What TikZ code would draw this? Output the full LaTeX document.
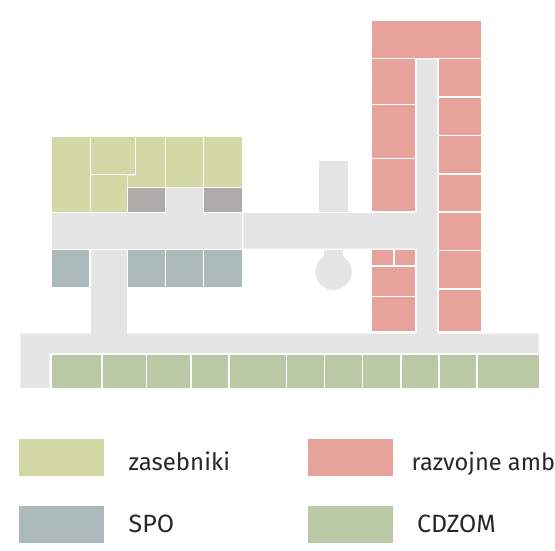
\documentclass[tikz,border=0pt]{standalone}
\usepackage{fontspec}
\setmainfont{Fira Sans}
\definecolor{zas}{HTML}{D3D9A6}
\definecolor{raz}{HTML}{E7A29B}
\definecolor{spo}{HTML}{ACBABA}
\definecolor{cdz}{HTML}{BAC8A5}
\definecolor{hod}{HTML}{E5E5E5}
\definecolor{sto}{HTML}{B0ABAB}
\definecolor{txt}{HTML}{2A2626}
\tikzset{
  zasebnik/.style={fill=zas},
  razvojna/.style={fill=raz},
  spoblok/.style={fill=spo},
  cdzom/.style={fill=cdz},
  hodnik/.style={fill=hod},
  shramba/.style={fill=sto},
  legtext/.style={anchor=base west,inner sep=0pt,text=txt,font=\fontsize{24}{24}\selectfont}
}
\begin{document}
\begin{tikzpicture}[x=1pt,y=-1pt]
\useasboundingbox (0,0) rectangle (555,551);
% corridors
\path[hodnik] (52,213) rectangle (242,248.7);
\path[hodnik] (166,188) rectangle (203.3,213);
\path[hodnik] (91,250.3) rectangle (126.5,334);
\path[hodnik] (243.3,213) -- (416.7,213) -- (416.7,59.3) -- (437.3,59.3) -- (437.3,333.7) -- (538.7,333.7) -- (538.7,353) -- (49.7,353) -- (49.7,388) -- (20.3,388) -- (20.3,333.7) -- (416.7,333.7) -- (416.7,248.5) -- (243.3,248.5) -- cycle;
\path[hodnik] (319,161) rectangle (348,212);
\path[hodnik] (324,250.3) rectangle (343,262);
\path[hodnik] (333.5,271.8) circle (18.2);
% zasebniki
\path[zasebnik] (52,137) rectangle (90,212);
\path[zasebnik] (91,137) rectangle (135,174);
\path[zasebnik] (91,175.3) rectangle (126.5,212);
\path[zasebnik] (136,137) -- (165,137) -- (165,187) -- (127.7,187) -- (127.7,175.3) -- (136,175.3) -- cycle;
\path[zasebnik] (166,137) rectangle (203,187);
\path[zasebnik] (204.3,137) rectangle (242,187);
% storage
\path[shramba] (127.7,188.3) rectangle (165,211.7);
\path[shramba] (204.3,188.3) rectangle (242,211.7);
% SPO
\foreach \a/\b in {52/89.3,128/164.7,166.3/203,204.3/242}
  \path[spoblok] (\a,250.3) rectangle (\b,286.7);
% razvojne
\path[razvojna] (372.3,21.3) rectangle (481.3,58);
\foreach \a/\b in {59.3/103.7,105.3/157.7,159/211.3,266.7/295.7,297.3/331}
  \path[razvojna] (372.3,\a) rectangle (415.3,\b);
\path[razvojna] (372.3,250.3) rectangle (393,265.3);
\path[razvojna] (394.7,250.3) rectangle (415.3,265.3);
\foreach \a/\b in {59.3/96,97.7/134.7,136/173,174.7/211.3,212.7/249.7,251.3/288.3,289.7/331}
  \path[razvojna] (438.7,\a) rectangle (481.3,\b);
% CDZOM
\foreach \a/\b in {52.3/101,102.7/145.7,147.3/190.3,191.7/228.3,230/285.7,287.3/324,325.3/362,363.3/400,401.7/438.3,440/476.3,478/538.7}
  \path[cdzom] (\a,355.3) rectangle (\b,388);
% legend
\path[zasebnik] (19,439) rectangle (104,476);
\path[razvojna] (308,439) rectangle (393,476);
\path[spoblok] (19,506) rectangle (104,543);
\path[cdzom] (308,506) rectangle (393,543);
\node[legtext] (l1) at (128.5,470) {zasebniki};
\node[legtext,font=\fontsize{23.6}{24}\selectfont] (l2) at (411.5,470) {razvojne amb};
\node[legtext,font=\fontsize{25}{25}\selectfont] (l3) at (128.5,532) {SPO};
\node[legtext,font=\fontsize{25}{25}\selectfont] (l4) at (417,532) {CDZOM};
\end{tikzpicture}
\end{document}
